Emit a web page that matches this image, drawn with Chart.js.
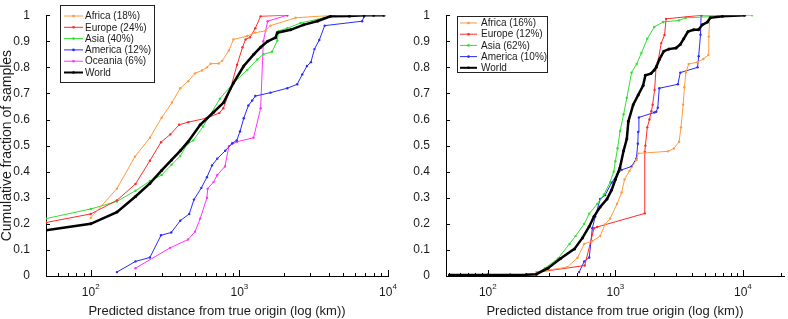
<!DOCTYPE html>
<html>
<head>
<meta charset="utf-8">
<script src="https://cdn.jsdelivr.net/npm/chart.js@4.4.1/dist/chart.umd.min.js"></script>
<style>
  body { margin: 0; background: #fff; }
  #wrap { position: relative; width: 788px; height: 319px; }
  canvas { position: absolute; top: 0; }
</style>
</head>
<body>
<div id="wrap">
  <canvas id="leftChart" width="400" height="319" style="left:0"></canvas>
  <canvas id="rightChart" width="388" height="319" style="left:400px"></canvas>
</div>
<script>
// --- Data: [distance km, cumulative fraction] ---
const leftAfrica = [[100,0.223],[150,0.335],[198,0.457],[250,0.53],[300,0.607],[352,0.665],[400,0.72],[453,0.747],[503,0.777],[560,0.788],[606,0.80],[640,0.814],[725,0.815],[767,0.825],[850,0.865],[912,0.907],[1130,0.92],[1280,0.933],[1500,0.94],[1620,0.96],[2390,0.99],[4350,1.0]];
const leftEurope = [[50,0.205],[100,0.238],[150,0.29],[200,0.353],[250,0.442],[297,0.513],[343,0.543],[394,0.58],[453,0.59],[600,0.605],[733,0.625],[780,0.643],[870,0.717],[965,0.81],[1050,0.877],[1100,0.907],[1180,0.915],[1280,0.95],[1390,0.996],[2100,1.0]];
const leftAsia = [[50,0.22],[100,0.257],[150,0.286],[200,0.327],[250,0.364],[300,0.387],[350,0.427],[400,0.46],[445,0.505],[490,0.52],[570,0.573],[740,0.68],[912,0.74],[1130,0.79],[1320,0.83],[1450,0.85],[1660,0.86],[1800,0.903],[1840,0.94],[2100,0.95],[2580,0.97],[3700,0.99],[4350,1.0]];
const leftAmerica = [[150,0.015],[200,0.056],[250,0.071],[297,0.156],[348,0.167],[400,0.212],[460,0.238],[495,0.293],[555,0.338],[605,0.379],[655,0.424],[710,0.45],[803,0.48],[895,0.509],[960,0.52],[1010,0.554],[1070,0.605],[1150,0.654],[1220,0.673],[1280,0.69],[1620,0.703],[2100,0.72],[2450,0.735],[2650,0.773],[2850,0.805],[3030,0.82],[3200,0.87],[3450,0.905],[3750,0.96],[6700,0.977],[6900,0.995]];
const leftOceania = [[200,0.03],[342,0.108],[452,0.14],[503,0.17],[545,0.22],[605,0.30],[612,0.335],[670,0.36],[710,0.387],[800,0.42],[850,0.498],[965,0.515],[1245,0.53],[1390,0.643],[1450,0.90],[1550,0.977],[2100,1.0]];
const leftWorld = [[50,0.175],[100,0.2],[150,0.245],[200,0.305],[250,0.355],[300,0.405],[350,0.445],[400,0.48],[452,0.515],[545,0.58],[670,0.628],[783,0.665],[912,0.74],[1070,0.805],[1250,0.85],[1390,0.877],[1550,0.9],[1750,0.914],[1800,0.933],[2210,0.944],[2700,0.963],[3370,0.978],[4100,0.996],[5500,0.997],[6900,1.0],[8000,1.0],[9400,1.0]];

const rightAfrica = [[240,0.015],[420,0.034],[505,0.07],[570,0.123],[660,0.134],[760,0.153],[830,0.198],[910,0.22],[1030,0.276],[1120,0.32],[1180,0.37],[1290,0.403],[1460,0.444],[1510,0.47],[2580,0.478],[2880,0.489],[3160,0.515],[3270,0.57],[3400,0.657],[3480,0.724],[3570,0.78],[3760,0.813],[4400,0.82],[4900,0.832],[5350,0.847],[5400,0.918],[5500,0.99],[6600,1.0]];
const rightEurope = [[248,0.015],[575,0.04],[680,0.183],[720,0.188],[1700,0.24],[1700,0.476],[1720,0.5],[1780,0.57],[1850,0.6],[1915,0.632],[1960,0.657],[2030,0.713],[2090,0.806],[2150,0.818],[2290,0.893],[2430,0.924],[2500,0.986],[4770,1.0],[6400,1.0]];
const rightAsia = [[50,0.005],[100,0.005],[150,0.005],[200,0.006],[240,0.008],[280,0.03],[355,0.067],[437,0.123],[487,0.153],[570,0.2],[624,0.239],[720,0.276],[815,0.313],[910,0.36],[970,0.40],[1000,0.44],[1040,0.49],[1090,0.556],[1160,0.62],[1230,0.683],[1340,0.78],[1470,0.813],[1600,0.855],[1780,0.91],[2020,0.955],[2370,0.974],[3150,0.98],[3560,0.99],[6430,0.996],[11800,1.0]];
const rightAmerica = [[520,0.015],[570,0.056],[624,0.071],[660,0.183],[695,0.228],[760,0.295],[830,0.31],[935,0.358],[1030,0.388],[1120,0.407],[1340,0.42],[1460,0.45],[1500,0.507],[1510,0.552],[1530,0.608],[2020,0.627],[2090,0.63],[2150,0.645],[2210,0.72],[3090,0.735],[3230,0.78],[4410,0.8],[4500,0.843],[4650,0.925],[4700,1.0]];
const rightWorld = [[50,0.004],[100,0.004],[150,0.004],[200,0.005],[240,0.007],[296,0.03],[372,0.067],[478,0.104],[552,0.146],[624,0.19],[680,0.228],[760,0.265],[860,0.295],[935,0.33],[1000,0.37],[1085,0.414],[1160,0.48],[1230,0.526],[1265,0.593],[1380,0.657],[1510,0.694],[1650,0.73],[1720,0.77],[1900,0.776],[2020,0.79],[2090,0.80],[2210,0.83],[2400,0.862],[2630,0.87],[2990,0.874],[3230,0.888],[3440,0.91],[3710,0.937],[4110,0.944],[4480,0.944],[4800,0.963],[5270,0.974],[5550,0.99],[6900,0.996],[10300,1.0]];

const leftNames = ['Africa (18%)', 'Europe (24%)', 'Asia (40%)', 'America (12%)', 'Oceania (6%)', 'World'];
const rightNames = ['Africa (16%)', 'Europe (12%)', 'Asia (62%)', 'America (10%)', 'World'];
const yTicks = [0, 0.1, 0.2, 0.3, 0.4, 0.5, 0.6, 0.7, 0.8, 0.9, 1];
const xTickPowers = [2, 3, 4];

const colors = {
    Africa: '#ff9a40',
    Europe: '#ff2a2a',
    Asia: '#33dd33',
    America: '#2a2aff',
    Oceania: '#ff33ff',
    World: '#000000'
};

Chart.defaults.font.family = '"Liberation Sans", Arial, sans-serif';
Chart.defaults.color = '#1a1a1a';

const makeDataset = (name, pairs, idx) => {
    const key = name.split(' ')[0];
    const isWorld = key === 'World';
    return {
        label: name,
        data: pairs.map(([x, y]) => ({ x, y })),
        borderColor: colors[key],
        backgroundColor: colors[key],
        borderWidth: isWorld ? 2.5 : 1,
        pointRadius: isWorld ? 1.5 : 1.2,
        pointBorderWidth: 0,
        pointBackgroundColor: colors[key],
        tension: 0,
        order: isWorld ? 0 : idx + 1
    };
};

// inward tick marks, x tick labels with exponent and boxed legend
const axisDecor = {
    id: 'axisDecor',
    afterDraw(chart, args, opts) {
        const { ctx, chartArea: a, scales: { x, y } } = chart;
        ctx.save();
        ctx.strokeStyle = '#000';
        ctx.lineWidth = 1;
        ctx.beginPath();
        yTicks.forEach(v => {
            const py = Math.round(y.getPixelForValue(v)) + 0.5;
            ctx.moveTo(a.left, py);
            ctx.lineTo(a.left + 4, py);
        });
        for (let e = 1; e <= 4; e++) {
            for (let m = 1; m <= 9; m++) {
                const v = m * Math.pow(10, e);
                if (v < x.min || v > x.max) continue;
                const px = Math.round(x.getPixelForValue(v)) + 0.5;
                ctx.moveTo(px, a.bottom);
                ctx.lineTo(px, a.bottom - (m === 1 ? 6 : 3));
            }
        }
        ctx.stroke();

        ctx.fillStyle = '#1a1a1a';
        ctx.textBaseline = 'middle';
        ctx.textAlign = 'left';
        xTickPowers.forEach(p => {
            const px = x.getPixelForValue(Math.pow(10, p));
            ctx.font = '12px "Liberation Sans", Arial, sans-serif';
            const w1 = ctx.measureText('10').width;
            ctx.font = '8px "Liberation Sans", Arial, sans-serif';
            const w2 = ctx.measureText(String(p)).width;
            const sx = px - (w1 + w2) / 2;
            ctx.font = '12px "Liberation Sans", Arial, sans-serif';
            ctx.fillText('10', sx, a.bottom + 17);
            ctx.font = '8px "Liberation Sans", Arial, sans-serif';
            ctx.fillText(String(p), sx + w1, a.bottom + 11);
        });

        // legend box
        const L = opts.legend;
        ctx.lineWidth = 1;
        ctx.strokeStyle = '#222';
        ctx.strokeRect(L.x + 0.5, L.y + 0.5, L.w, L.h);
        ctx.font = '10px "Liberation Sans", Arial, sans-serif';
        chart.data.datasets.forEach((ds, i) => {
            const ry = L.y + L.row0 + i * L.step;
            ctx.strokeStyle = ds.borderColor;
            ctx.lineWidth = ds.borderWidth > 1 ? 2 : 1;
            ctx.beginPath();
            ctx.moveTo(L.x + L.lineX, ry);
            ctx.lineTo(L.x + L.lineX + L.lineLen, ry);
            ctx.stroke();
            ctx.fillStyle = ds.borderColor;
            ctx.beginPath();
            ctx.arc(L.x + L.lineX + L.lineLen / 2, ry, 1.3, 0, Math.PI * 2);
            ctx.fill();
            ctx.fillStyle = '#1a1a1a';
            ctx.fillText(ds.label, L.x + L.textX, ry + 0.5);
        });
        ctx.restore();
    }
};

const buildChart = (id, names, series, xMin, xMax, rightPad, yTitle, legend) => {
    const ctx = document.getElementById(id).getContext('2d');
    return new Chart(ctx, {
        type: 'line',
        data: { datasets: names.map((n, i) => makeDataset(n, series[i], i)) },
        options: {
            responsive: false,
            animation: false,
            layout: { padding: { left: 0, right: rightPad, top: 7, bottom: 0 } },
            plugins: {
                legend: { display: false },
                tooltip: { enabled: false },
                axisDecor: { legend }
            },
            scales: {
                x: {
                    type: 'logarithmic',
                    min: xMin,
                    max: xMax,
                    grid: { display: false },
                    border: { display: true, color: '#000', width: 1 },
                    ticks: { display: false },
                    title: {
                        display: true,
                        text: 'Predicted distance from true origin (log (km))',
                        font: { size: 13 },
                        padding: { top: 0, bottom: 0 }
                    },
                    afterFit: s => { s.height = 43; }
                },
                y: {
                    min: 0,
                    max: 1,
                    grid: { display: false },
                    border: { display: true, color: '#000', width: 1 },
                    afterBuildTicks: s => { s.ticks = yTicks.map(v => ({ value: v })); },
                    ticks: {
                        font: { size: 12 },
                        padding: 8,
                        callback: v => String(Math.round(v * 10) / 10)
                    },
                    title: {
                        display: !!yTitle,
                        text: yTitle || '',
                        font: { size: 14 },
                        padding: { top: -1, bottom: 0 }
                    },
                    afterFit: s => { s.width = 46; }
                }
            }
        },
        plugins: [axisDecor]
    });
};

buildChart('leftChart', leftNames,
    [leftAfrica, leftEurope, leftAsia, leftAmerica, leftOceania, leftWorld],
    50, 10000, 12, 'Cumulative fraction of samples',
    { x: 60, y: 5, w: 94, h: 77, row0: 11, step: 11.3, lineX: 4, lineLen: 19, textX: 25 });

buildChart('rightChart', rightNames,
    [rightAfrica, rightEurope, rightAsia, rightAmerica, rightWorld],
    47, 21000, 0, null,
    { x: 57, y: 16, w: 90, h: 56, row0: 7, step: 11.2, lineX: 3, lineLen: 17, textX: 24 });
</script>
</body>
</html>
